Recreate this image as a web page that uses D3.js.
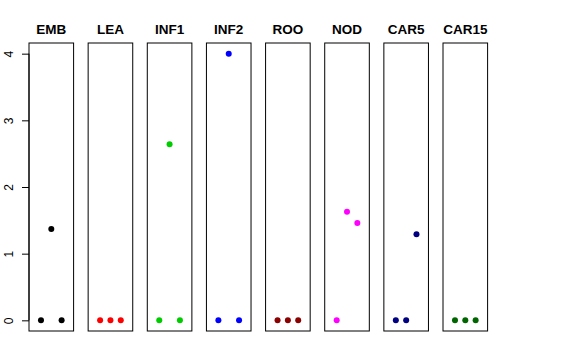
<!DOCTYPE html>
<html>
<head>
<meta charset="utf-8">
<script src="https://cdn.jsdelivr.net/npm/d3@7"></script>
<style>
  body { margin: 0; background: #fff; }
  text { font-family: "Liberation Sans", Arial, sans-serif; }
</style>
</head>
<body>
<script>
'use strict';
(function () {
  // panels and their three values (x = 1, 2, 3)
  let panels = ["EMB", "LEA", "INF1", "INF2", "ROO", "NOD", "CAR5", "CAR15"];
  let colors = ["#000000", "#ff0000", "#00cd00", "#0000ff", "#8b0000", "#ff00ff", "#000080", "#006400"];
  let values = [
    [0, 1.37, 0],
    [0, 0, 0],
    [0, 2.64, 0],
    [0, 4.0, 0],
    [0, 0, 0],
    [0, 1.63, 1.46],
    [0, 0, 1.29],
    [0, 0, 0]
  ];
  let yTicks = [0, 1, 2, 3, 4];

  let svg = d3.select("body").append("svg")
    .attr("width", 576)
    .attr("height", 360);

  let top = 43, bottom = 331;

  let band = d3.scaleBand()
    .domain(panels)
    .range([29, 487.6])
    .paddingInner(0.246)
    .paddingOuter(0);

  let y = d3.scaleLinear()
    .domain([-0.16, 4.16])
    .range([bottom, top]);

  panels.forEach(function (name, i) {
    let x0 = band(name);
    let x = d3.scaleLinear()
      .domain([-0.16, 4.16])
      .range([x0, x0 + band.bandwidth()]);

    let g = svg.append("g");

    g.selectAll("circle")
      .data(values[i])
      .enter()
      .append("circle")
      .attr("cx", (d, j) => x(j + 1))
      .attr("cy", (d) => y(d))
      .attr("r", 3)
      .attr("fill", colors[i]);

    g.append("rect")
      .attr("x", x0)
      .attr("y", top)
      .attr("width", band.bandwidth())
      .attr("height", bottom - top)
      .attr("fill", "none")
      .attr("stroke", "black")
      .attr("stroke-width", 1);

    g.append("text")
      .attr("x", x0 + band.bandwidth() / 2)
      .attr("y", 34)
      .attr("text-anchor", "middle")
      .style("font-size", "13.5px")
      .style("font-weight", "bold")
      .text(name);
  });

  // left axis
  let yAxis = d3.axisLeft(y)
    .tickValues(yTicks)
    .tickSize(7)
    .tickPadding(0)
    .tickFormat(d3.format("d"));

  let ax = svg.append("g")
    .attr("transform", "translate(29, 0)")
    .call(yAxis);
  ax.select(".domain")
    .attr("d", "M0," + y(0) + "V" + y(4));
  ax.selectAll(".tick line").attr("stroke", "black");
  ax.selectAll(".tick text")
    .attr("x", null)
    .attr("dy", null)
    .attr("text-anchor", "middle")
    .attr("transform", "translate(-16.5,0) rotate(-90)")
    .style("font-size", "12px")
    .style("font-family", "Liberation Sans, Arial, sans-serif")
    .attr("fill", "black");
})();
</script>
</body>
</html>
